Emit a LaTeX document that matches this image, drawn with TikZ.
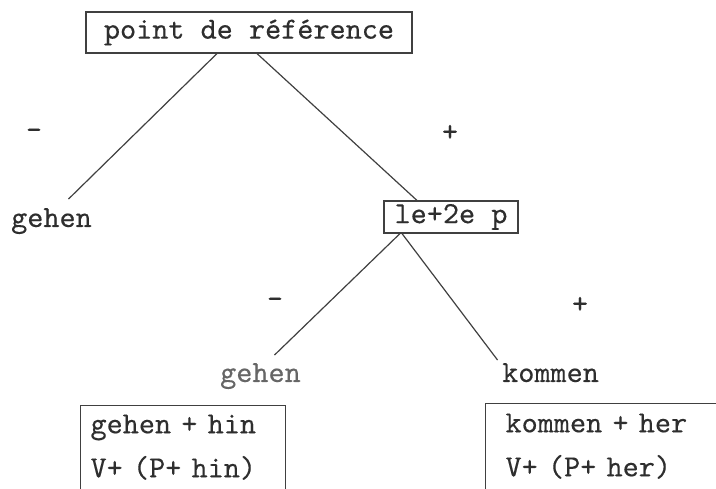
\documentclass[tikz,border=0pt]{standalone}
\usepackage{fontspec}
\setmonofont{lmmono10-regular.otf}[FakeBold=0.3]
\definecolor{ink}{HTML}{2E2E2E}
\definecolor{lightink}{HTML}{666666}
\definecolor{lineink}{HTML}{404040}
\tikzset{
  txt/.style={font=\ttfamily\fontsize{30.7}{44}\selectfont, text=ink, inner sep=0pt},
  framebox/.style={txt, draw=lineink, line width=1.1pt, rectangle},
  leaf/.style={txt},
  sign/.style={txt},
  conn/.style={draw=lineink, line width=1.2pt}
}
\begin{document}
\begin{tikzpicture}[x=1pt,y=-1pt]
\useasboundingbox (0,0) rectangle (716,489);
\clip (0,0) rectangle (716,489);

\node[framebox, minimum width=326pt, minimum height=41pt] (top) at (249,32.5) {point de référence};
\node[framebox, minimum width=134pt, minimum height=32pt] (mid) at (451,217) {le+2e p};
\node[leaf, anchor=base west] (gehenL) at (11,227) {gehen};
\node[leaf, anchor=base west, text=lightink] (gehenM) at (220,382) {gehen};
\node[leaf, anchor=base west] (kommen) at (502,382) {kommen};

\node[sign] (s1) at (34,134) {-};
\node[sign] (s2) at (450,133) {+};
\node[sign] (s3) at (275,303) {-};
\node[sign] (s4) at (580,305) {+};

\node[framebox, anchor=north west, text width=185pt, align=left, inner xsep=10pt, inner ysep=9pt] (boxL) at (80,405) {gehen + hin\\V+ (P+ hin)\rule[-20pt]{0pt}{0pt}};
\node[framebox, anchor=north west, text width=240pt, align=left, inner xsep=20pt, inner ysep=10pt] (boxR) at (485,403) {kommen + her\\V+ (P+ her)\rule[-20pt]{0pt}{0pt}};

\draw[conn] ([xshift=-32pt]top.south) -- ([xshift=17pt,yshift=9pt]gehenL.north);
\draw[conn] ([xshift=8pt]top.south) -- ([xshift=-34pt]mid.north);
\draw[conn] ([xshift=-51pt]mid.south) -- ([xshift=14pt,yshift=8pt]gehenM.north);
\draw[conn] ([xshift=-49pt]mid.south) -- ([xshift=-53pt,yshift=3pt]kommen.north);
\end{tikzpicture}
\end{document}
